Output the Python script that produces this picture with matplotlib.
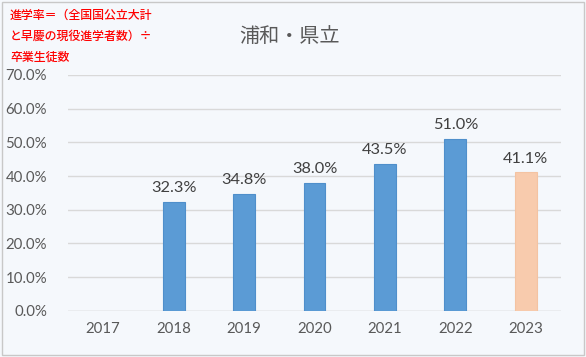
import matplotlib
matplotlib.use("Agg")
import matplotlib.pyplot as plt
import numpy as np
from matplotlib.patches import Rectangle

plt.rcParams['font.family'] = ['Noto Sans CJK JP', 'DejaVu Sans']

years = ["2017", "2018", "2019", "2020", "2021", "2022", "2023"]
rates = [np.nan, 32.3, 34.8, 38.0, 43.5, 51.0, 41.1]
bar_colors = ["#5B9BD5"] * 6 + ["#F8CBAD"]
edge_colors = ["#4F8FCB"] * 6 + ["#F4C3A2"]
title = "浦和・県立"
note_lines = ["進学率＝（全国国公立大計", "と早慶の現役進学者数）÷", "卒業生徒数"]

bg = "#F5F8FC"
fig = plt.figure(figsize=(5.86, 3.57), dpi=100, facecolor=bg)
ax = fig.add_axes([68/586, 1-310.7/357, (561-68)/586, (310.7-75)/357])
ax.set_facecolor(bg)

num_font = ["Lato", "DejaVu Sans"]
x = np.arange(len(years))
ax.bar(x, rates, width=0.31, color=bar_colors, edgecolor=edge_colors, linewidth=0.8, zorder=3)
for xi, v in zip(x, rates):
    if not np.isnan(v):
        ax.text(xi, v + 2.0, f"{v:.1f}%", ha="center", va="bottom",
                fontsize=11.8, color="#404040", family=num_font)

ax.set_xlim(-0.5, len(years) - 0.5)
ax.set_ylim(0, 70)
ax.set_yticks(np.arange(0, 71, 10))
ax.set_yticklabels([f"{t:.1f}%" for t in range(0, 71, 10)], family=num_font)
ax.set_xticks(x)
ax.set_xticklabels(years, family=num_font)
ax.tick_params(axis="both", length=0, labelsize=10.8, colors="#595959")
ax.tick_params(axis="y", pad=15)
ax.tick_params(axis="x", pad=8)
ax.grid(axis="y", color="#D9D9D9", linewidth=1, zorder=0)
for s in ax.spines.values():
    s.set_visible(False)
ax.axhline(0, color="#D9D9D9", linewidth=1, zorder=2)

fig.text(290/586, 1-37/357, title, ha="center", va="center", fontsize=14.5, color="#595959")
for i, (line, yc) in enumerate(zip(note_lines, [15, 36, 57])):
    fig.text(10/586, 1-yc/357, line, ha="left", va="center", fontsize=8.6,
             color="#FF0000", fontweight="medium")

fig.patches.append(Rectangle((0.004, 0.006), 0.992, 0.988, transform=fig.transFigure,
                             fill=False, edgecolor="#C8C8C8", linewidth=1.0))

fig.savefig("out.png", dpi=100, facecolor=bg)
